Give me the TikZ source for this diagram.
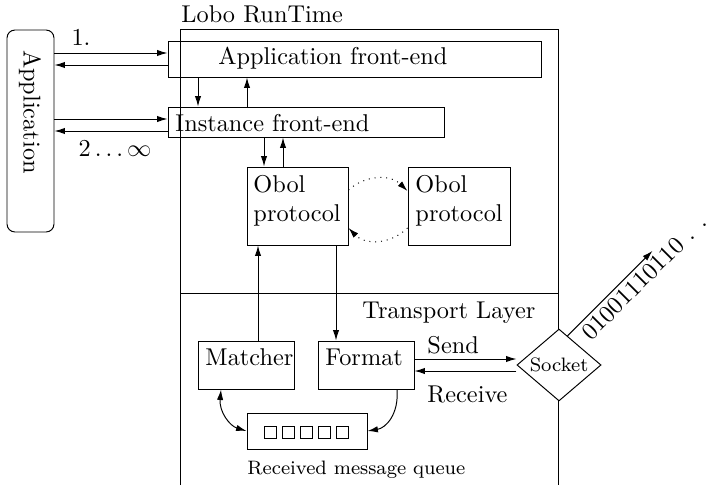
\documentclass[tikz,border=0pt]{standalone}
\usetikzlibrary{arrows.meta,shapes.geometric,fit,calc}

\begin{document}
\begin{tikzpicture}[x=0.4115pt,y=-0.4115pt,
  box/.style={draw,rectangle,inner sep=0pt},
  txt/.style={inner sep=0pt,anchor=base west},
  conn/.style={-{Latex[length=4.3pt,width=2.6pt]}},
  twoway/.style={{Latex[length=4.3pt,width=2.6pt]}-{Latex[length=4.3pt,width=2.6pt]}}]
\useasboundingbox (0,0) rectangle (712,485);

% the application, outside the runtime
\node[draw,rounded corners=3.3pt,inner sep=0pt,fit={(7,30) (54,232)}] (app) {};
\node[rotate=-90,inner sep=0pt] at (30,112) {Application};

% runtime frame and its split into two layers
\draw (180,485) -- (180,29) -- (558,29) -- (558,485);
\draw (180,293) -- (558,293);
\node[txt] (rt) at (181,23) {Lobo RunTime};
\node[txt] (tl) at (362,318) {Transport Layer};

% front-ends
\node[box,fit={(168,41) (541,77)}] (afe) {};
\node[txt] at (218,65) {Application front-end};
\node[box,fit={(168,107) (444,137)}] (ife) {};
\node[txt] at (175,131) {Instance front-end};

% protocol instances
\node[box,fit={(247,167) (348,245)}] (ob1) {};
\node[inner sep=0pt,anchor=north west,align=left] at (253,175) {Obol\\protocol};
\node[box,fit={(408,167) (510,245)}] (ob2) {};
\node[inner sep=0pt,anchor=north west,align=left] at (415,175) {Obol\\protocol};

% transport components
\node[box,fit={(198,341) (294,389)}] (mat) {};
\node[txt] at (205,365) {Matcher};
\node[box,fit={(318,341) (414,389)}] (fmt) {};
\node[txt] at (325,365) {Format};
\node[box,fit={(247,413) (367,449)}] (que) {};
\foreach \i in {0,...,4} { \draw ({264+18.2*\i},426) rectangle +(12,12); }
\node[txt,font=\footnotesize] at (247,474) {Received message queue};

\node[draw,diamond,fill=white,inner sep=0pt,aspect=1.17,
      minimum width=34.6pt,minimum height=29.6pt,font=\footnotesize] (sock) at (559,365) {Socket};

% application <-> front-ends
\node[inner sep=0pt] at (81,37) {1.};
\node[inner sep=0pt] at (115,149) {$2\ldots\infty$};
\draw[conn] (app.east |- 0,53) -- (afe.west |- 0,53);
\draw[conn] (afe.west |- 0,65) -- (app.east |- 0,65);
\draw[conn] (app.east |- 0,119) -- (ife.west |- 0,119);
\draw[conn] (ife.west |- 0,131) -- (app.east |- 0,131);

% front-end chain
\draw[conn] (afe.south -| 198,0) -- (ife.north -| 198,0);
\draw[conn] (ife.north -| 247,0) -- (afe.south -| 247,0);
\draw[conn] (ife.south -| 264,0) -- (ob1.north -| 264,0);
\draw[conn] (ob1.north -| 283,0) -- (ife.south -| 283,0);

% protocol exchange
\draw[conn,dotted] (ob1.east |- 0,190) .. controls (365,175) and (390,174) .. (ob2.west |- 0,191);
\draw[conn,dotted] (ob2.west |- 0,228) .. controls (390,245) and (365,245) .. (ob1.east |- 0,228);

% between layers
\draw[conn] (mat.north -| 258,0) -- (ob1.south -| 258,0);
\draw[conn] (ob1.south -| 336,0) -- (fmt.north -| 336,0);

% queue
\draw[twoway] (mat.south -| 221,0) .. controls (219,412) and (230,426) .. (que.west);
\draw[conn] (fmt.south -| 397,0) .. controls (399,414) and (386,428) .. (que.east);

% socket traffic
\draw[conn] ($(fmt.east)+(0,-6)$) -- ($(sock.west)+(0,-6)$);
\draw[conn] ($(sock.west)+(0,6)$) -- ($(fmt.east)+(0,6)$);
\node[txt] at (427,353) {Send};
\node[txt] at (427,402) {Receive};

\coordinate (s) at ($(sock.north)!0.2!(sock.east)$);
\coordinate (bits) at ($(s)+(85,-85)$);
\draw[conn] (s) -- (bits);
\node[rotate=45,anchor=north west,inner sep=1.6pt] at ($(s)!0.07!(bits)$) {01001110110 . . .};
\end{tikzpicture}
\end{document}
